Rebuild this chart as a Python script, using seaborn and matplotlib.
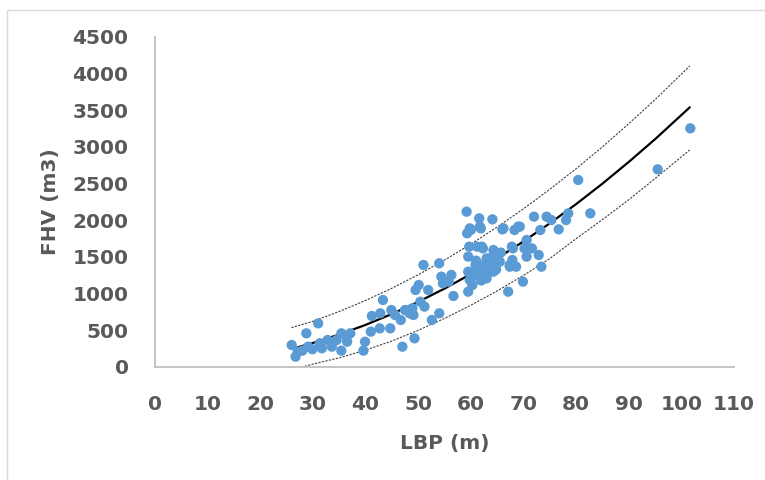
import matplotlib
matplotlib.use("Agg")
import matplotlib.pyplot as plt
from matplotlib.patches import Rectangle
import seaborn as sns
import pandas as pd

# Observed data (LBP in m, FHV in m3)
lbp = [25.97, 26.7, 27.1, 28.0, 28.75, 29.1, 29.9, 31.0, 31.3, 31.7, 32.8, 33.6, 34.5,
       35.4, 35.4, 36.4, 36.5, 37.1, 39.6, 39.9, 41.0, 41.2, 42.7, 42.8, 43.3, 44.7,
       44.9, 45.6, 46.7, 47.0, 47.5, 48.4, 48.9, 49.1, 49.3, 49.5, 50.1, 50.4, 51.0,
       51.2, 51.9, 52.6, 54.0, 54.0, 54.4, 54.7, 55.8, 56.3, 56.7, 59.2, 59.3, 59.5,
       59.5, 59.5, 59.7, 60.0, 60.3, 60.5, 60.9, 61.2, 61.6, 61.9, 61.9, 62.3, 62.5,
       63.0, 63.2, 64.1, 64.3, 64.6, 65.1, 66.0, 67.1, 67.4, 67.9, 68.0, 68.3, 68.6,
       69.3, 69.9, 70.2, 70.6, 70.6, 71.6, 72.0, 72.9, 73.2, 73.4, 74.4, 75.3, 76.7,
       78.1, 78.5, 80.4, 82.7, 95.5, 101.7,
       61.4, 62.8, 60.8, 63.5, 62.0, 64.8, 61.0, 65.7, 59.8, 61.7, 66.2, 69.0, 62.1,
       67.8, 63.6, 62.4, 64.3, 61.1, 59.8, 63.0, 67.4, 65.5]
fhv = [300, 141, 209, 223, 459, 277, 241, 595, 323, 255, 368, 277, 368,
       459, 223, 414, 345, 459, 223, 345, 482, 695, 527, 732, 914, 527,
       777, 709, 641, 277, 777, 732, 800, 709, 391, 1050, 1118, 891, 1391,
       823, 1050, 641, 1414, 732, 1232, 1141, 1164, 1255, 968, 2118, 1823, 1505,
       1027, 1300, 1641, 1868, 1118, 1255, 1391, 1641, 2027, 1891, 1209, 1618, 1300,
       1482, 1277, 2014, 1595, 1414, 1505, 1877, 1027, 1368, 1459, 1618, 1868, 1368,
       1914, 1164, 1618, 1732, 1505, 1618, 2050, 1527, 1868, 1368, 2050, 2004, 1877,
       2004, 2095, 2550, 2095, 2695, 3254,
       1320, 1350, 1250, 1420, 1180, 1330, 1450, 1560, 1891, 1914, 1891, 1914, 1641,
       1641, 1482, 1391, 1300, 1255, 1186, 1209, 1391, 1436]

# Fitted curve and prediction bounds
fit_x = [26.8, 30, 35, 40, 45, 50, 55, 60, 65, 70, 75, 80, 85, 90, 95, 101.6]
fit_y = [263, 328, 443, 574, 723, 888, 1069, 1267, 1481, 1712, 1959, 2221, 2500, 2796, 3106, 3541]
up_x = [25.9, 30, 35, 40, 45, 50, 55, 60, 65, 70, 75, 80, 85, 90, 95, 101.6]
up_y = [536, 623, 757, 907, 1074, 1258, 1458, 1675, 1908, 2157, 2423, 2704, 3002, 3317, 3645, 4105]
lo_x = [27.8, 30, 35, 40, 45, 50, 55, 60, 65, 70, 75, 80, 85, 90, 95, 101.6]
lo_y = [-5, 40, 125, 230, 354, 500, 663, 842, 1037, 1249, 1478, 1750, 2010, 2280, 2570, 2960]

x_ticks = list(range(0, 111, 10))
y_ticks = list(range(0, 4501, 500))

pts = pd.DataFrame({"LBP": lbp, "FHV": fhv})
fit = pd.DataFrame({"x": fit_x, "y": fit_y})
up = pd.DataFrame({"x": up_x, "y": up_y})
lo = pd.DataFrame({"x": lo_x, "y": lo_y})

sns.set_style("white")
plt.rcParams["font.family"] = ["DejaVu Sans"]

W, H = 765, 480
fig = plt.figure(figsize=(W / 100, H / 100), dpi=100)
ax = fig.add_axes([155 / W, 1 - 367 / H, (734 - 155) / W, (367 - 37) / H])

# outer chart frame
fig.patches.append(Rectangle((7 / W, -0.1), 1.2, 1 - 10 / H + 0.1, transform=fig.transFigure,
                             fill=False, edgecolor="#D9D9D9", lw=1.0))

sns.lineplot(data=up, x="x", y="y", ax=ax, sort=False, estimator=None,
             color="#404040", lw=0.8, linestyle=(0, (2.0, 1.2)))
sns.lineplot(data=lo, x="x", y="y", ax=ax, sort=False, estimator=None,
             color="#404040", lw=0.8, linestyle=(0, (2.0, 1.2)))
sns.lineplot(data=fit, x="x", y="y", ax=ax, sort=False, estimator=None,
             color="black", lw=1.6)
sns.scatterplot(data=pts, x="LBP", y="FHV", ax=ax, s=55, color="#5B9BD5",
                edgecolor="none", zorder=3)

ax.set_xlim(0, 110)
ax.set_ylim(0, 4500)
ax.set_xticks(x_ticks)
ax.set_yticks(y_ticks)
ax.tick_params(axis="both", length=0, labelsize=14.5, labelcolor="#595959")
ax.tick_params(axis="x", pad=20)
ax.tick_params(axis="y", pad=19)
for lab in ax.get_xticklabels() + ax.get_yticklabels():
    lab.set_fontweight("bold")

ax.set_xlabel("LBP (m)", fontsize=14.5, fontweight="bold", color="#595959")
ax.set_ylabel("FHV (m3)", fontsize=14.5, fontweight="bold", color="#595959")
ax.xaxis.set_label_coords(0.5, (367 - 434) / 330)
ax.yaxis.set_label_coords((60 - 155) / 579, 0.5)

for s in ["top", "right"]:
    ax.spines[s].set_visible(False)
for s in ["left", "bottom"]:
    ax.spines[s].set_color("#BFBFBF")
    ax.spines[s].set_linewidth(1.3)
ax.grid(False)

fig.savefig("out.png", dpi=100)
